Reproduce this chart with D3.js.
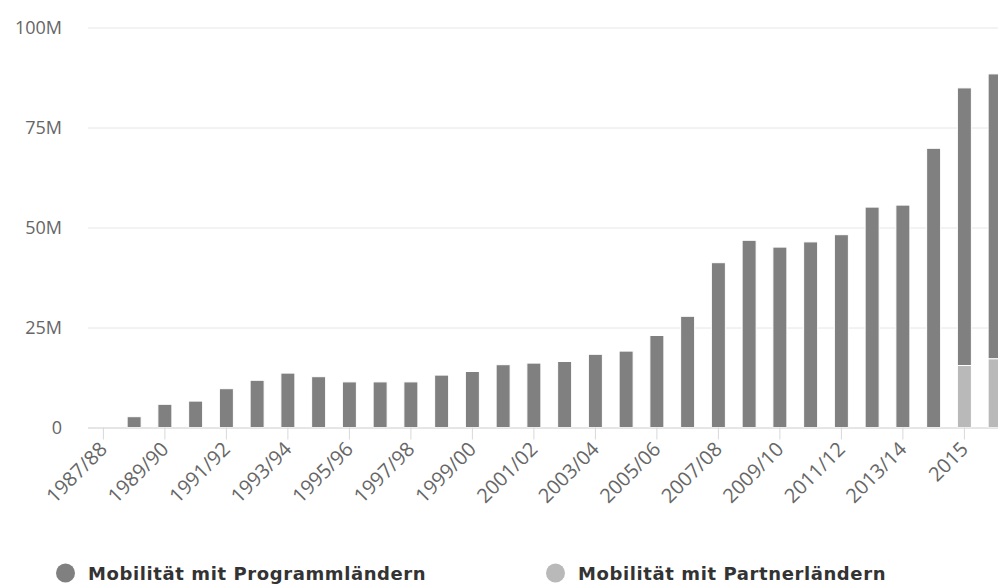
<!DOCTYPE html>
<html>
<head>
<meta charset="utf-8">
<script src="https://cdn.jsdelivr.net/npm/d3@7"></script>
<style>
  html, body { margin: 0; padding: 0; background: #fff; }
  svg { display: block; font-family: 'Open Sans', sans-serif; }
</style>
</head>
<body>
<div id="app"></div>
<script>
const categories = [
  '1987/88', '1988/89', '1989/90', '1990/91', '1991/92', '1992/93', '1993/94',
  '1994/95', '1995/96', '1996/97', '1997/98', '1998/99', '1999/00', '2000/01',
  '2001/02', '2002/03', '2003/04', '2004/05', '2005/06', '2006/07', '2007/08',
  '2008/09', '2009/10', '2010/11', '2011/12', '2012/13', '2013/14', '2014',
  '2015', '2016',
];

// values in millions
const programmLaender = [
  0, 2.7, 5.8, 6.6, 9.7, 11.8, 13.6, 12.7, 11.4, 11.4, 11.4, 13.1, 14.0, 15.7,
  16.1, 16.5, 18.3, 19.1, 23.0, 27.8, 41.2, 46.8, 45.1, 46.4, 48.2, 55.1, 55.6,
  69.8, 69.4, 71.2,
];

const partnerLaender = [
  0, 0, 0, 0, 0, 0, 0, 0, 0, 0, 0, 0, 0, 0, 0, 0, 0, 0, 0, 0, 0, 0, 0, 0, 0, 0,
  0, 0, 15.5, 17.2,
];

const yTicks = [0, 25, 50, 75, 100];
const yTickLabels = ['0', '25M', '50M', '75M', '100M'];

const seriesNames = ['Mobilität mit Programmländern', 'Mobilität mit Partnerländern'];
const seriesColors = ['#808080', '#b9b9b9'];

const width = 998;
const height = 585;

const svg = d3.create('svg').attr('width', width).attr('height', height);

const xScale = d3.scaleBand().domain(categories).range([88, 1010.5]).padding(0);
const yScale = d3.scaleLinear().domain([0, 100]).range([427.5, 27.5]);

// grid + y labels
const axisY = d3.axisLeft(yScale).tickValues(yTicks).tickSize(-(width - 88))
  .tickFormat((d, i) => yTickLabels[i]);
const axisYG = svg.append('g').attr('transform', 'translate(88,0)').call(axisY);
axisYG.select('.domain').remove();
axisYG.selectAll('line').attr('stroke', '#e6e6e6');
axisYG.selectAll('text')
  .attr('x', -26)
  .attr('fill', '#666')
  .attr('font-size', 18)
  .attr('font-family', 'Open Sans');

// stacked bars
const rows = categories.map((c, i) => ({ cat: c, partner: partnerLaender[i], programm: programmLaender[i] }));
const stack = d3.stack().keys(['partner', 'programm']);
const stacked = stack(rows);
const barWidth = 14;

svg.append('g').selectAll('g')
  .data(stacked)
  .join('g')
  .attr('fill', (d) => (d.key === 'programm' ? seriesColors[0] : seriesColors[1]))
  .selectAll('rect')
  .data((d) => d.filter((s) => s[1] - s[0] > 0))
  .join('rect')
  .attr('x', (d) => xScale(d.data.cat) + xScale.bandwidth() / 2 - barWidth / 2)
  .attr('y', (d) => yScale(d[1]))
  .attr('width', barWidth)
  .attr('height', (d) => yScale(d[0]) - yScale(d[1]))
  .attr('stroke', '#fff')
  .attr('stroke-width', 1);

// x axis
const axisX = d3.axisBottom(xScale).tickSize(12)
  .tickFormat((d, i) => (i % 2 === 0 ? d : ''));
const axisXG = svg.append('g').attr('transform', 'translate(0,427.5)').call(axisX);
axisXG.select('.domain').attr('stroke', '#d8d8d8').attr('d', 'M88,0.5H998');
axisXG.selectAll('line').attr('stroke', '#d8d8d8');
axisXG.selectAll('.tick').filter((d, i) => i % 2 === 1).select('line').remove();
axisXG.selectAll('text')
  .attr('fill', '#666')
  .attr('font-size', 20)
  .attr('font-family', 'Open Sans')
  .attr('text-anchor', 'end')
  .attr('y', 0)
  .attr('dy', 0)
  .attr('transform', 'translate(5,23) rotate(-45)');

// legend
const legend = svg.append('g').attr('transform', 'translate(0,573)');
const legendX = [65.5, 555.5];
seriesNames.forEach((name, i) => {
  legend.append('circle').attr('cx', legendX[i]).attr('cy', 0).attr('r', 9.5).attr('fill', seriesColors[i]);
  legend.append('text')
    .attr('x', legendX[i] + 22.5)
    .attr('y', 6.5)
    .attr('font-size', 18)
    .attr('font-weight', 'bold')
    .attr('font-family', 'DejaVu Sans')
    .attr('letter-spacing', 0.6)
    .attr('fill', '#333')
    .text(name);
});

document.getElementById('app').appendChild(svg.node());
</script>
</body>
</html>
